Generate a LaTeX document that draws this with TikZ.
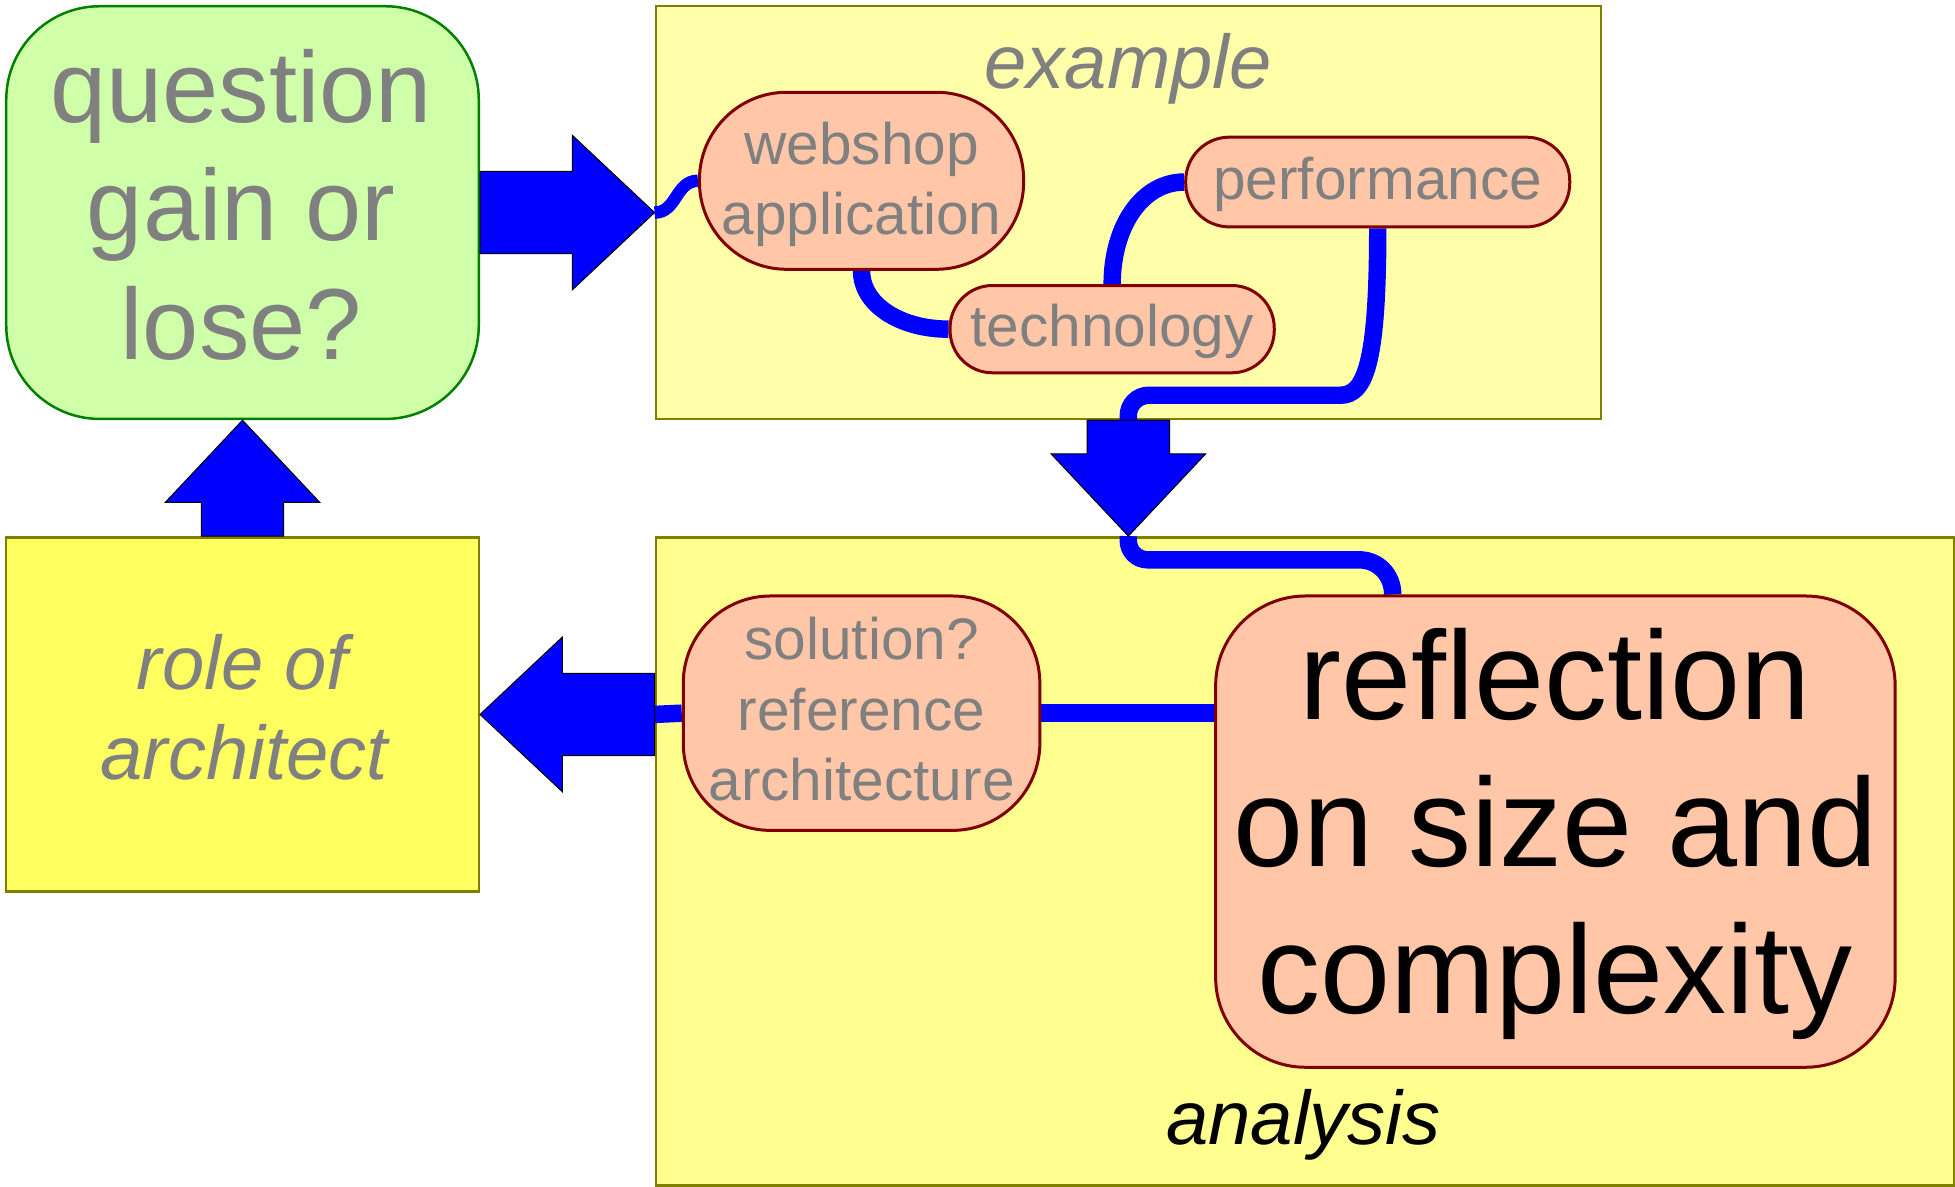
\documentclass[tikz,border=0pt]{standalone}
\usepackage{fontspec}
\setmainfont{Liberation Sans}
\usetikzlibrary{calc}

\definecolor{qfill}{RGB}{208,255,170}
\definecolor{qline}{RGB}{0,128,0}
\definecolor{exfill}{RGB}{255,255,170}
\definecolor{anfill}{RGB}{255,255,144}
\definecolor{rolefill}{RGB}{255,255,96}
\definecolor{olive}{RGB}{128,128,0}
\definecolor{pillfill}{RGB}{255,198,168}
\definecolor{pillline}{RGB}{128,0,0}
\definecolor{textgray}{RGB}{128,128,128}
\definecolor{connblue}{RGB}{0,0,255}

% drawing layers: containers, then connectors, then topics, texts and arrows
\pgfdeclarelayer{containers}
\pgfdeclarelayer{links}
\pgfsetlayers{containers,links,main}

% block arrow from coordinate #1 (tail) to coordinate #2 (tip)
\newcommand\blockarrow[2]{%
  \coordinate (#1h) at ($(#2)!66pt!(#1)$);
  \draw[arrowbody] ($(#1)!33pt!90:(#2)$) -- ($(#1h)!33pt!90:(#2)$)
    -- ($(#1h)!62pt!90:(#2)$) -- (#2) -- ($(#1h)!62pt!-90:(#2)$)
    -- ($(#1h)!33pt!-90:(#2)$) -- ($(#1)!33pt!-90:(#2)$) -- cycle;}

\tikzset{
  box/.style={draw, line width=2pt, inner sep=0pt, anchor=north west},
  pill/.style={draw=pillline, fill=pillfill, line width=2.4pt, inner sep=0pt},
  conn/.style={draw=connblue, line width=14pt},
  thinconn/.style={draw=connblue, line width=10pt},
  arrowbody/.style={fill=connblue, draw=black, line width=0.8pt, line join=miter},
  txt/.style={inner sep=0pt, anchor=base, text=textgray},
  bigtxt/.style={txt, font=\fontsize{81}{95}\selectfont},
  pilltxt/.style={txt, font=\fontsize{47}{55}\selectfont},
  hugetxt/.style={txt, text=black, font=\fontsize{101}{118}\selectfont},
  labeltxt/.style={txt, font=\fontsize{61}{69}\selectfont\itshape},
}

\begin{document}
\begin{tikzpicture}[x=1pt,y=-1pt]
\useasboundingbox (0,0) rectangle (1568,952);

% containers
\begin{pgfonlayer}{containers}
\node[box, draw=qline, fill=qfill, rounded corners=75pt,
      minimum width=379pt, minimum height=331pt] (q) at (4,4) {};
\node[box, draw=olive, fill=exfill,
      minimum width=758pt, minimum height=331pt] (ex) at (525,4) {};
\node[box, draw=olive, fill=anfill,
      minimum width=1041pt, minimum height=520pt] (an) at (525,430) {};
\node[box, draw=olive, fill=rolefill,
      minimum width=379pt, minimum height=284pt] (role) at (4,430) {};
\end{pgfonlayer}

% arrow end points
\coordinate (ra) at (q.east);
\coordinate (rb) at (ex.west);
\coordinate (da) at (ex.south);
\coordinate (db) at (ex.south |- an.north);
\coordinate (ua) at (role.north);
\coordinate (ub) at (q.south);
\coordinate (la) at (an.west |- role.east);
\coordinate (lb) at (role.east);

% pill shaped topics
\node[pill, minimum width=260pt, minimum height=142pt, rounded corners=70pt] (web) at (691,145) {};
\node[pill, minimum width=308pt, minimum height=72pt, rounded corners=35pt] (perf) at (1105,146) {};
\node[pill, minimum width=260pt, minimum height=70pt, rounded corners=34pt] (tech) at (892,264) {};
\node[pill, minimum width=286pt, minimum height=188pt, rounded corners=70pt] (sol) at (691,572) {};
\node[pill, minimum width=545pt, minimum height=378pt, rounded corners=72pt] (refl) at (1247.5,667) {};

% connectors, kept behind the topics
\begin{pgfonlayer}{links}
\draw[thinconn] (rb) .. controls +(18,0) and +(-18,0) .. (web.west);
\draw[conn] (web.south) .. controls +(0,27) and +(-39,0) .. (tech.west);
\draw[conn] (tech.north) .. controls +(0,-46) and +(-34,0) .. (perf.west);
\draw[conn] (perf.south) .. controls +(0,108) and +(20,0) .. (1075,317)
  [rounded corners=17pt] -- (904.5,317) -- (da);
\draw[conn] (db) [rounded corners=16pt] -- (904.5,449) [sharp corners] -- (1090,449)
  .. controls +(15,0) and +(0,-16) .. ([xshift=-130.5pt]refl.north);
\draw[conn] (sol.east) -- (sol.east -| refl.west);
\draw[conn] (la) -- (sol.west);
\end{pgfonlayer}

% texts
\node[bigtxt] (q1) at (193.5,98) {question};
\node[bigtxt] (q2) at (193.5,193) {gain or};
\node[bigtxt] (q3) at (193.5,288) {lose?};

\node[labeltxt] (exl) at (905,71) {example};
\node[labeltxt, text=black] (anl) at (1045.5,918) {analysis};
\node[labeltxt] (role1) at (194.5,553) {role of};
\node[labeltxt] (role2) at (196,625) {architect};

\node[pilltxt] (web1) at (691,132) {webshop};
\node[pilltxt] (web2) at (691,188) {application};
\node[pilltxt] (perf1) at (1105,160) {performance};
\node[pilltxt] (tech1) at (892,278) {technology};
\node[pilltxt] (sol1) at (691,529) {solution?};
\node[pilltxt] (sol2) at (691,586) {reference};
\node[pilltxt] (sol3) at (691,642) {architecture};

\node[hugetxt] (refl1) at (1247.5,577) {reflection};
\node[hugetxt] (refl2) at (1247.5,695) {on size and};
\node[hugetxt] (refl3) at (1247.5,813) {complexity};

% block arrows
\blockarrow{ra}{rb}
\blockarrow{da}{db}
\blockarrow{ua}{ub}
\blockarrow{la}{lb}
\end{tikzpicture}
\end{document}
